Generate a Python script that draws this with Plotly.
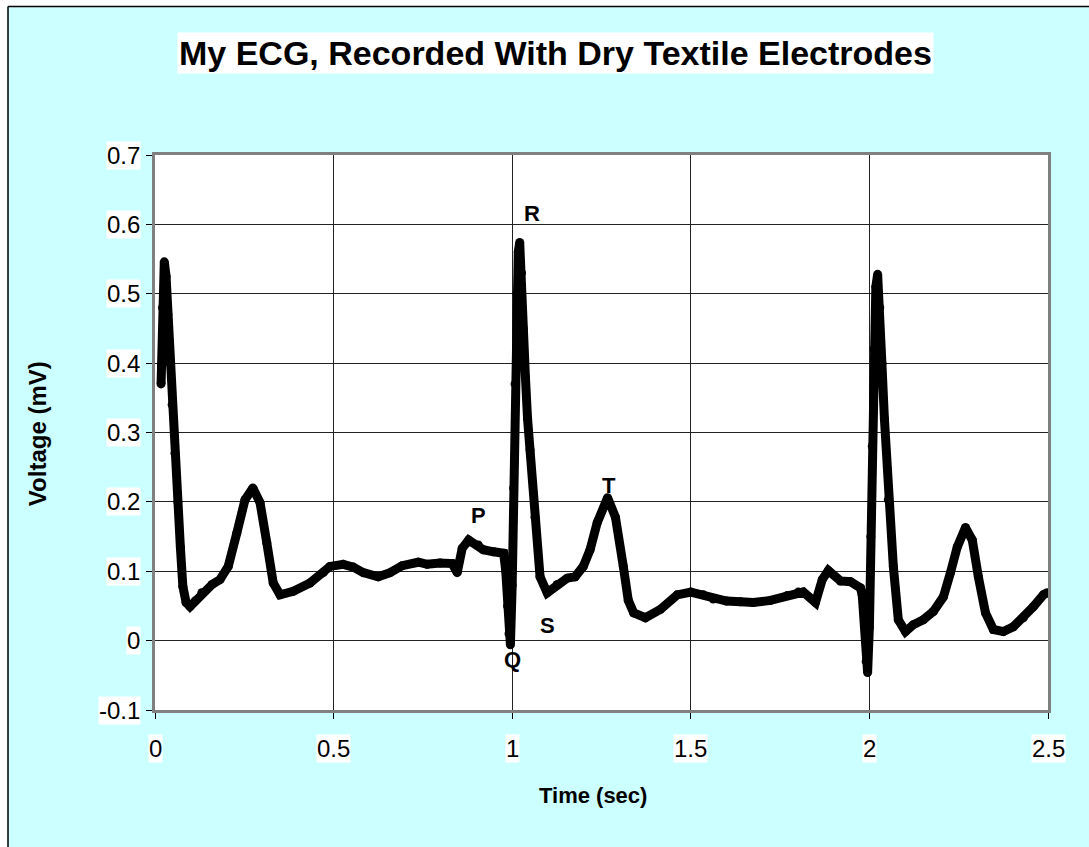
import plotly.graph_objects as go

# ECG trace: time (s) and voltage (mV)
time_s = [
    0.017, 0.021, 0.026, 0.031, 0.036, 0.042, 0.048, 0.056, 0.064, 0.071,
    0.078, 0.087, 0.098, 0.112, 0.131, 0.160, 0.182, 0.205, 0.229, 0.252,
    0.274, 0.294, 0.313, 0.331, 0.350, 0.387, 0.434, 0.471, 0.490, 0.527,
    0.555, 0.583, 0.625, 0.658, 0.692, 0.737, 0.762, 0.798, 0.832, 0.846,
    0.860, 0.878, 0.905, 0.919, 0.948, 0.976, 0.982, 0.987, 0.991, 0.995,
    1.000, 1.004, 1.008, 1.013, 1.017, 1.021, 1.026, 1.031, 1.037, 1.043,
    1.050, 1.064, 1.078, 1.098, 1.126, 1.154, 1.176, 1.199, 1.218, 1.238,
    1.267, 1.289, 1.311, 1.325, 1.340, 1.373, 1.415, 1.462, 1.500, 1.535,
    1.563, 1.600, 1.639, 1.675, 1.723, 1.770, 1.801, 1.815, 1.849, 1.868,
    1.885, 1.919, 1.947, 1.975, 1.980, 1.986, 1.991, 1.995, 2.000, 2.004,
    2.008, 2.013, 2.018, 2.023, 2.029, 2.035, 2.042, 2.053, 2.067, 2.081,
    2.101, 2.123, 2.151, 2.179, 2.207, 2.227, 2.246, 2.269, 2.288, 2.305,
    2.325, 2.347, 2.375, 2.403, 2.431, 2.459, 2.487, 2.498,
]
voltage_mv = [
    0.370, 0.480, 0.546, 0.525, 0.470, 0.400, 0.340, 0.270, 0.200, 0.135,
    0.078, 0.055, 0.049, 0.057, 0.069, 0.081, 0.088, 0.107, 0.155, 0.203,
    0.220, 0.199, 0.141, 0.083, 0.066, 0.071, 0.083, 0.098, 0.107, 0.110,
    0.106, 0.098, 0.092, 0.098, 0.108, 0.113, 0.110, 0.112, 0.111, 0.098,
    0.133, 0.145, 0.138, 0.131, 0.128, 0.126, 0.100, 0.050, 0.010, -0.006,
    0.080, 0.220, 0.370, 0.500, 0.560, 0.574, 0.530, 0.450, 0.380, 0.320,
    0.275, 0.178, 0.092, 0.069, 0.081, 0.090, 0.092, 0.107, 0.131, 0.170,
    0.206, 0.178, 0.107, 0.058, 0.040, 0.033, 0.045, 0.066, 0.070, 0.066,
    0.060, 0.057, 0.056, 0.055, 0.058, 0.065, 0.070, 0.070, 0.055, 0.088,
    0.101, 0.086, 0.085, 0.076, 0.065, 0.020, -0.030, -0.046, 0.020, 0.150,
    0.280, 0.420, 0.510, 0.528, 0.480, 0.400, 0.320, 0.203, 0.107, 0.030,
    0.013, 0.023, 0.030, 0.042, 0.063, 0.098, 0.135, 0.163, 0.145, 0.092,
    0.040, 0.016, 0.013, 0.020, 0.033, 0.049, 0.066, 0.069,
]

# Wave labels (P, R, Q, S, T) and where they sit
wave_names = ["P", "R", "Q", "S", "T"]
wave_t = [0.905, 1.056, 1.000, 1.098, 1.272]
wave_v = [0.180, 0.616, -0.027, 0.022, 0.224]

# Axis ticks
x_ticks = [0, 0.5, 1, 1.5, 2, 2.5]
x_tick_text = ["0", "0.5", "1", "1.5", "2", "2.5"]
y_ticks = [-0.1, 0, 0.1, 0.2, 0.3, 0.4, 0.5, 0.6, 0.7]
y_tick_text = ["-0.1", "0", "0.1", "0.2", "0.3", "0.4", "0.5", "0.6", "0.7"]

FONT = "Liberation Sans, Arial, sans-serif"
BG = "#CCFFFF"
LINE_W = 9

fig = go.Figure()
# Thick black trace; round dots at each vertex give rounded joins
fig.add_trace(go.Scatter(
    x=time_s, y=voltage_mv, mode="lines+markers",
    line=dict(color="black", width=LINE_W),
    marker=dict(color="black", size=LINE_W, line=dict(width=0)),
    hoverinfo="skip", showlegend=False,
))

annotations = []
# Chart title on a white box
annotations.append(dict(
    text="<b>My ECG, Recorded With Dry Textile Electrodes</b>",
    xref="paper", yref="paper", x=0.448, y=1.0, yshift=102,
    xanchor="center", yanchor="middle", showarrow=False,
    font=dict(family=FONT, size=34, color="black"),
    bgcolor="white", borderpad=1,
))
# Axis titles
annotations.append(dict(
    text="<b>Time (sec)</b>", xref="paper", yref="paper",
    x=0.49, y=0, yshift=-85, xanchor="center", yanchor="middle",
    showarrow=False, font=dict(family=FONT, size=22, color="black"),
))
annotations.append(dict(
    text="<b>Voltage (mV)</b>", xref="paper", yref="paper",
    x=0, xshift=-118, y=0.497, xanchor="center", yanchor="middle",
    textangle=-90, showarrow=False,
    font=dict(family=FONT, size=24, color="black"),
))
# Tick labels on white boxes
for tv, tt in zip(x_ticks, x_tick_text):
    annotations.append(dict(
        text=tt, xref="x", yref="paper", x=tv, y=0, yshift=-38,
        xanchor="center", yanchor="middle", showarrow=False,
        font=dict(family=FONT, size=24, color="black"),
        bgcolor="white", borderpad=0,
    ))
for tv, tt in zip(y_ticks, y_tick_text):
    annotations.append(dict(
        text=tt, xref="paper", yref="y", x=0, xshift=-14, y=tv,
        xanchor="right", yanchor="middle", showarrow=False,
        font=dict(family=FONT, size=24, color="black"),
        bgcolor="white", borderpad=0,
    ))
# Wave letters
for name, tv, vv in zip(wave_names, wave_t, wave_v):
    annotations.append(dict(
        text=f"<b>{name}</b>", xref="x", yref="y", x=tv, y=vv,
        xanchor="center", yanchor="middle", showarrow=False,
        font=dict(family=FONT, size=22, color="black"),
    ))

# Outer frame: white strip above/left and a thin black border line
shapes = [
    dict(type="rect", xref="paper", yref="paper", layer="below",
         x0=-0.2, x1=1.1, y0=1.2685, y1=1.35,
         fillcolor="white", line=dict(width=0)),
    dict(type="rect", xref="paper", yref="paper", layer="below",
         x0=-0.2, x1=-0.1657, y0=-0.3, y1=1.35,
         fillcolor="white", line=dict(width=0)),
    dict(type="line", xref="paper", yref="paper", layer="below",
         x0=-0.1646, x1=1.1, y0=1.2675, y1=1.2675,
         line=dict(color="black", width=1.5)),
    dict(type="line", xref="paper", yref="paper", layer="below",
         x0=-0.1646, x1=-0.1646, y0=-0.3, y1=1.2675,
         line=dict(color="black", width=1.5)),
]

axis_common = dict(
    showline=True, linecolor="#808080", linewidth=3, mirror=True,
    showgrid=True, gridcolor="#222222", gridwidth=1,
    zeroline=False, ticks="outside", ticklen=6, tickcolor="black",
    tickwidth=1, showticklabels=False,
)

fig.update_layout(
    width=1089, height=847,
    margin=dict(l=155, r=41, t=155, b=137),
    paper_bgcolor=BG, plot_bgcolor="white",
    xaxis=dict(range=[0, 2.5], tickvals=x_ticks, **axis_common),
    yaxis=dict(range=[-0.1, 0.7], tickvals=y_ticks, **axis_common),
    annotations=annotations, shapes=shapes,
    showlegend=False,
)

fig.write_html("out.html")
